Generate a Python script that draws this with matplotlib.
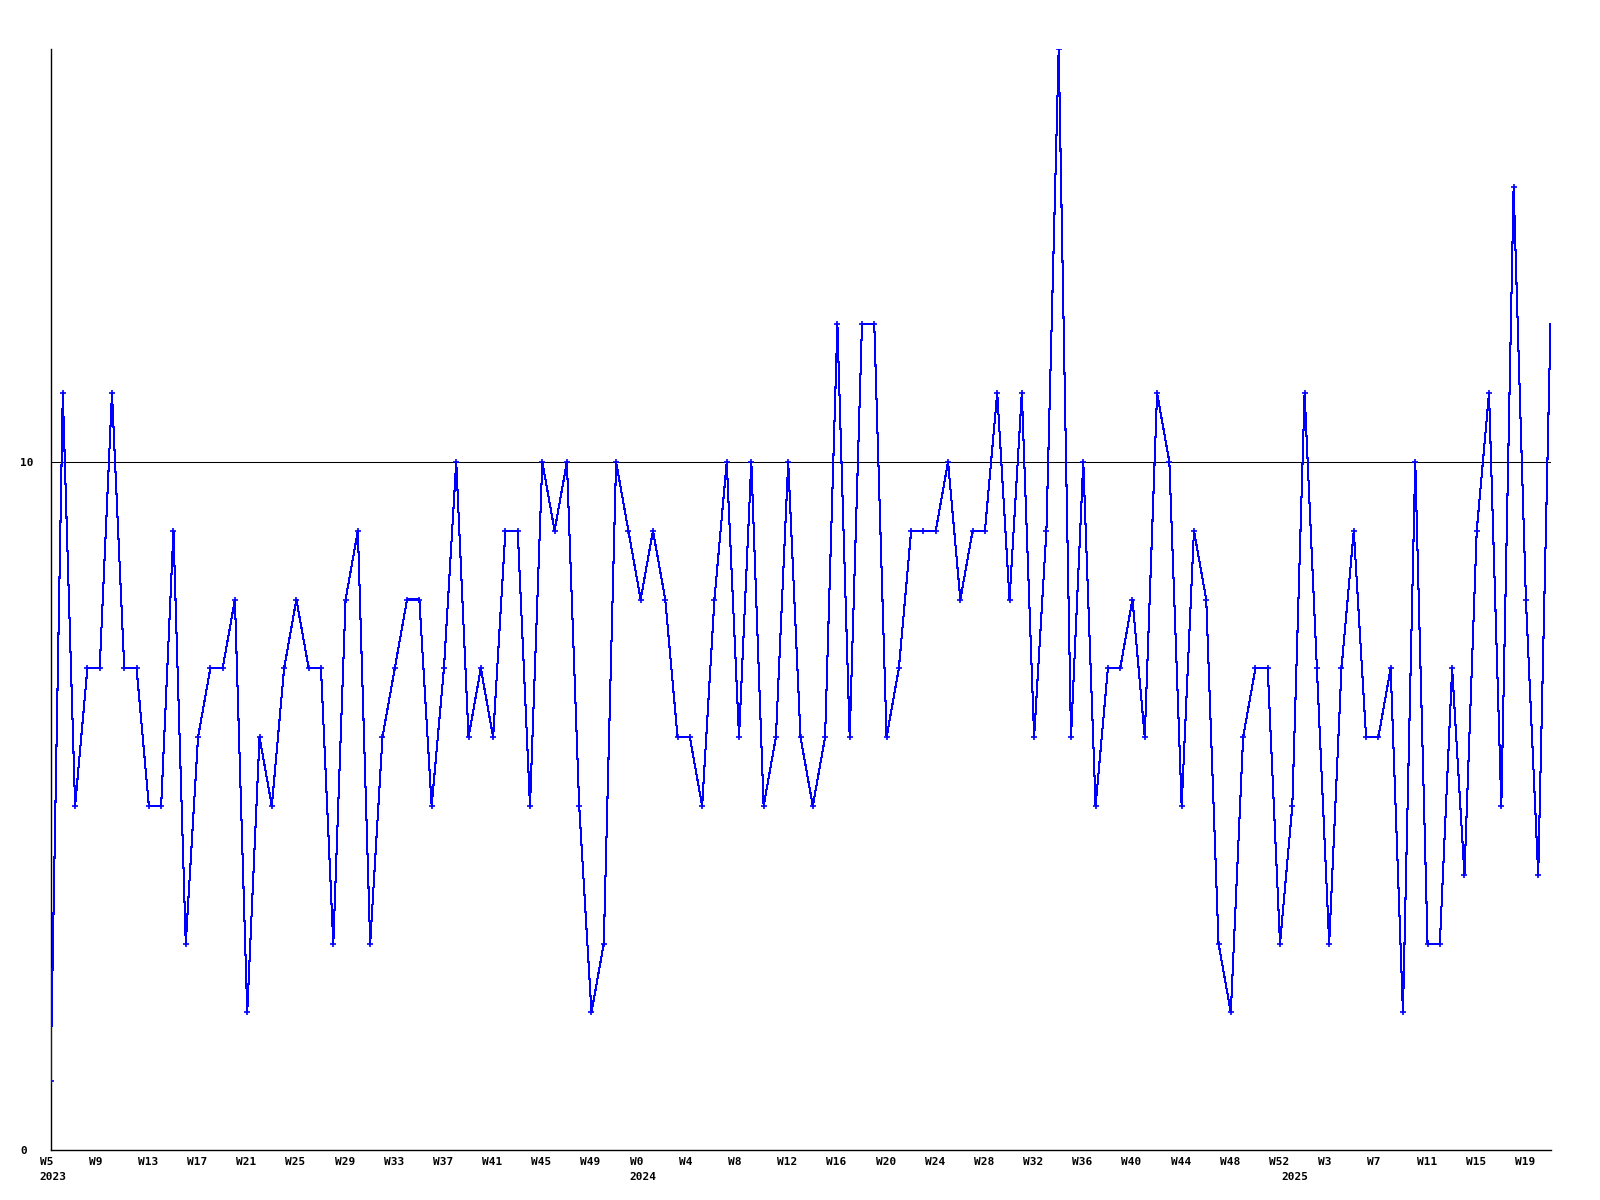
import matplotlib
matplotlib.use("Agg")
import matplotlib.pyplot as plt
from matplotlib.transforms import ScaledTranslation

# weekly values, 2023 W5 .. 2025 W21
values = [1, 11, 5, 7, 7, 11, 7, 7, 5, 5, 9, 3, 6, 7, 7, 8, 2, 6, 5, 7,
          8, 7, 7, 3, 8, 9, 3, 6, 7, 8, 8, 5, 7, 10, 6, 7, 6, 9, 9, 5,
          10, 9, 10, 5, 2, 3, 10, 9, 8, 9, 8, 6, 6, 5, 8, 10, 6, 10, 5, 6,
          10, 6, 5, 6, 12, 6, 12, 12, 6, 7, 9, 9, 9, 10, 8, 9, 9, 11, 8, 11,
          6, 9, 16, 6, 10, 5, 7, 7, 8, 6, 11, 10, 5, 9, 8, 3, 2, 6, 7, 7,
          3, 5, 11, 7, 3, 7, 9, 6, 6, 7, 2, 10, 3, 3, 7, 4, 9, 11, 5, 14,
          8, 4, 12]

tick_index = [0, 4, 8, 12, 16, 20, 24, 28, 32, 36, 40, 44,
              48, 52, 56, 60, 64, 68, 72, 76, 80, 84, 88, 92, 96, 100,
              104, 108, 112, 116, 120]
tick_labels = ["W5", "W9", "W13", "W17", "W21", "W25", "W29", "W33",
               "W37", "W41", "W45", "W49",
               "W0", "W4", "W8", "W12", "W16", "W20", "W24", "W28",
               "W32", "W36", "W40", "W44", "W48", "W52",
               "W3", "W7", "W11", "W15", "W19"]
year_index = [0, 48, 101]
year_labels = ["2023", "2024", "2025"]
y_ticks = [0, 10]
y_tick_labels = ["0", "10"]
threshold = 10

plt.rcParams['font.family'] = ['DejaVu Sans Mono']

fig = plt.figure(figsize=(16, 12), dpi=100)
ax = fig.add_axes([50.5 / 1600, 50 / 1200, 1500 / 1600, 1101 / 1200])

x = list(range(len(values)))
ax.plot(x, values, color='#0000ff', lw=0.75, antialiased=False, zorder=3)
ax.plot(x[:-1], values[:-1], ls='none', marker='+', ms=4, mew=1.2,
        color='#0000ff', zorder=4)
ax.axhline(threshold, color='black', lw=0.75, zorder=2)

ax.set_xlim(0, len(values) - 1)
ax.set_ylim(0, 16)

for s in ['top', 'right']:
    ax.spines[s].set_visible(False)
for s in ['left', 'bottom']:
    ax.spines[s].set_color('black')
    ax.spines[s].set_linewidth(1.0)

ax.set_yticks(y_ticks)
ax.set_yticklabels(y_tick_labels, fontsize=8, fontweight='bold')
ax.tick_params(axis='y', length=0, pad=30 * 72 / 100)
for lab in ax.get_yticklabels():
    lab.set_horizontalalignment('left')

ax.set_xticks(tick_index)
ax.set_xticklabels(tick_labels, fontsize=8, fontweight='bold')
ax.tick_params(axis='x', which='both', length=0, pad=5)
shift = ScaledTranslation(-11 / 100, 0, fig.dpi_scale_trans)
for lab in ax.get_xticklabels():
    lab.set_horizontalalignment('left')
    lab.set_transform(lab.get_transform() + shift)

for xi, yl in zip(year_index, year_labels):
    ax.annotate(yl, xy=(xi, 0), xycoords=('data', 'axes fraction'),
                xytext=(-11, -22), textcoords='offset pixels',
                ha='left', va='top', fontsize=8, fontweight='bold',
                annotation_clip=False)

fig.savefig("out.png", dpi=100, facecolor='white')
